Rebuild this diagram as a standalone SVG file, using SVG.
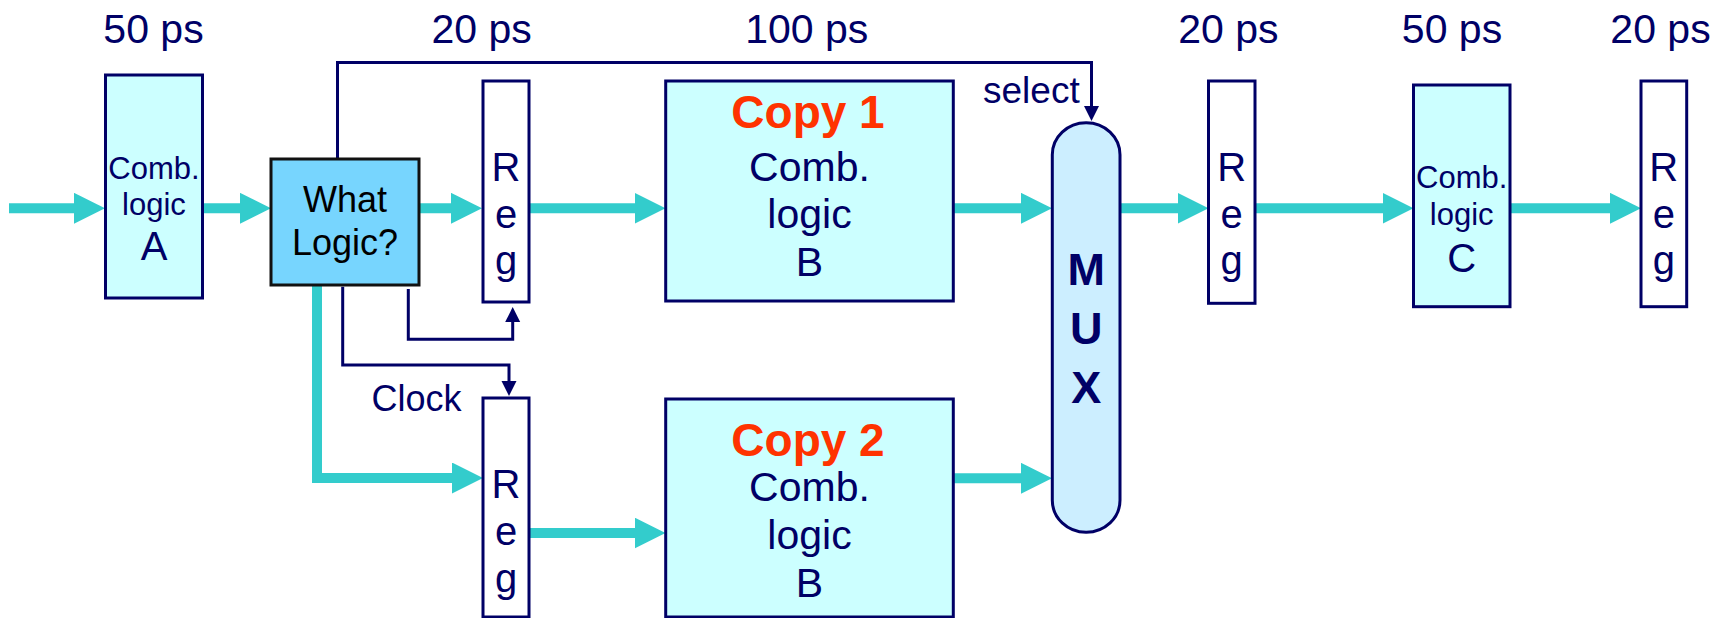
<svg xmlns="http://www.w3.org/2000/svg" width="1729" height="618" viewBox="0 0 1729 618">
<style>
text{font-family:"Liberation Sans",Arial,sans-serif;fill:#000066}
.t{font-size:41px;text-anchor:middle}
.box{fill:#ccffff;stroke:#000066;stroke-width:3}
.reg{fill:#ffffff;stroke:#000066;stroke-width:3}
.rl{font-size:40px;text-anchor:middle}
.sm{font-size:31px;text-anchor:middle}
.big{font-size:41px;text-anchor:middle}
.copy{font-size:46px;font-weight:bold;text-anchor:middle;fill:#ff3300}
.mux{font-size:45px;font-weight:bold;text-anchor:middle}
.wire{fill:none;stroke:#33cccc;stroke-width:10;stroke-linejoin:miter}
.ctl{fill:none;stroke:#000066;stroke-width:3}
</style>
<defs>
<marker id="ah" markerUnits="userSpaceOnUse" markerWidth="32" markerHeight="32" viewBox="0 0 32 32" refX="1" refY="15.5" orient="auto">
<path d="M0,0 L31,15.5 L0,31 z" fill="#33cccc"/>
</marker>
<marker id="nh" markerUnits="userSpaceOnUse" markerWidth="16" markerHeight="16" viewBox="0 0 16 16" refX="1" refY="7.5" orient="auto">
<path d="M0,0 L15,7.5 L0,15 z" fill="#000066"/>
</marker>
</defs>
<rect width="1729" height="618" fill="#ffffff"/>

<g id="timing">
<text class="t" x="153.5" y="42.7">50 ps</text>
<text class="t" x="481.6" y="42.7">20 ps</text>
<text class="t" x="806.7" y="42.7">100 ps</text>
<text class="t" x="1228.3" y="42.7">20 ps</text>
<text class="t" x="1452" y="42.7">50 ps</text>
<text class="t" x="1660.5" y="42.7">20 ps</text>
</g>

<g id="connectors">
<path class="wire" d="M9,208.3 H75" marker-end="url(#ah)"/>
<path class="wire" d="M202.4,208.3 H241" marker-end="url(#ah)"/>
<path class="wire" d="M419,208.3 H452" marker-end="url(#ah)"/>
<path class="wire" d="M529,208.3 H635.5" marker-end="url(#ah)"/>
<path class="wire" d="M953.3,208.3 H1022" marker-end="url(#ah)"/>
<path class="wire" d="M1120,208.3 H1178.5" marker-end="url(#ah)"/>
<path class="wire" d="M1255,208.3 H1383.5" marker-end="url(#ah)"/>
<path class="wire" d="M1510,208.3 H1611" marker-end="url(#ah)"/>
<path class="wire" d="M317,284 V478 H453" marker-end="url(#ah)"/>
<path class="wire" d="M529,533 H635.5" marker-end="url(#ah)"/>
<path class="wire" d="M953.3,478.3 H1022" marker-end="url(#ah)"/>
<path class="ctl" d="M337.5,159 V62.5 H1091.5 V107" marker-end="url(#nh)"/>
<path class="ctl" d="M408.3,289 V339.3 H512.7 V321" marker-end="url(#nh)"/>
<path class="ctl" d="M342.7,286.7 V365 H509 V382" marker-end="url(#nh)"/>
<text x="983" y="103.3" style="font-size:37px">select</text>
<text x="371.5" y="410.7" style="font-size:36px">Clock</text>
</g>

<g id="combA">
<rect class="box" x="105.5" y="75" width="97" height="223"/>
<text class="sm" x="154" y="179">Comb.</text>
<text class="sm" x="154" y="215">logic</text>
<text class="rl" x="154" y="260">A</text>
</g>

<g id="whatLogic">
<rect x="271" y="159" width="148" height="126" fill="#77d5fe" stroke="#111111" stroke-width="3"/>
<text x="345" y="212.3" style="font-size:36px;text-anchor:middle;fill:#000000">What</text>
<text x="345" y="255" style="font-size:36px;text-anchor:middle;fill:#000000">Logic?</text>
</g>

<g id="reg1">
<rect class="reg" x="483" y="81" width="46" height="221"/>
<text class="rl" x="506" y="181">R</text>
<text class="rl" x="506" y="228">e</text>
<text class="rl" x="506" y="274">g</text>
</g>

<g id="reg2">
<rect class="reg" x="483" y="398" width="46" height="219"/>
<text class="rl" x="506" y="498">R</text>
<text class="rl" x="506" y="545">e</text>
<text class="rl" x="506" y="592">g</text>
</g>

<g id="copy1">
<rect class="box" x="665.7" y="81" width="287.6" height="220"/>
<text class="copy" x="808" y="127.7">Copy 1</text>
<text class="big" x="809.5" y="181">Comb.</text>
<text class="big" x="809.5" y="228.3">logic</text>
<text class="big" x="809.5" y="276">B</text>
</g>

<g id="copy2">
<rect class="box" x="665.7" y="399" width="287.6" height="218"/>
<text class="copy" x="808" y="455.7">Copy 2</text>
<text class="big" x="809.5" y="501">Comb.</text>
<text class="big" x="809.5" y="549.3">logic</text>
<text class="big" x="809.5" y="596.7">B</text>
</g>

<g id="mux">
<rect x="1052.3" y="122.7" width="67.7" height="409.6" rx="33.8" ry="32" fill="#cceeff" stroke="#000066" stroke-width="3"/>
<text class="mux" x="1086.2" y="285">M</text>
<text class="mux" x="1086.2" y="344.3">U</text>
<text class="mux" x="1086.2" y="402.7">X</text>
</g>

<g id="reg3">
<rect class="reg" x="1208.5" y="81" width="46.5" height="222.3"/>
<text class="rl" x="1231.7" y="181">R</text>
<text class="rl" x="1231.7" y="228">e</text>
<text class="rl" x="1231.7" y="274">g</text>
</g>

<g id="combC">
<rect class="box" x="1413.5" y="85" width="96.5" height="221.7"/>
<text class="sm" x="1461.7" y="188.3">Comb.</text>
<text class="sm" x="1461.7" y="225">logic</text>
<text class="rl" x="1461.7" y="271.7">C</text>
</g>

<g id="reg4">
<rect class="reg" x="1641" y="81" width="45.7" height="225.7"/>
<text class="rl" x="1663.8" y="181">R</text>
<text class="rl" x="1663.8" y="228">e</text>
<text class="rl" x="1663.8" y="274">g</text>
</g>
</svg>
